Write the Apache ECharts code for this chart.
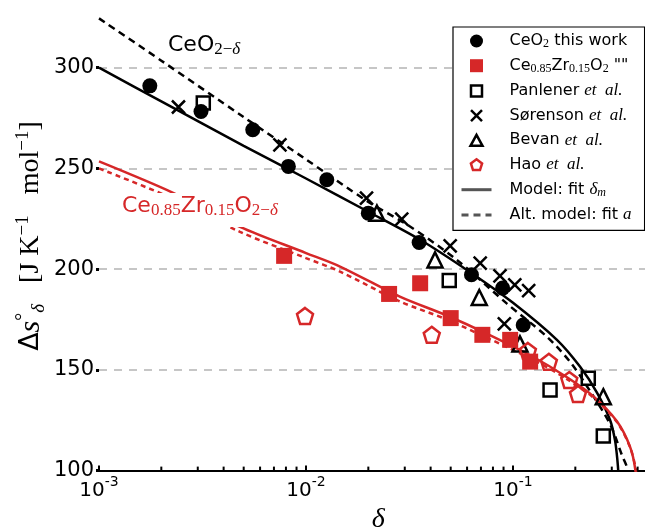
<!DOCTYPE html>
<html>
<head>
<meta charset="utf-8">
<script src="https://cdn.jsdelivr.net/npm/echarts@6/dist/echarts.min.js"></script>
<style>
  html, body { margin: 0; padding: 0; background: #fff; }
  #main { width: 645px; height: 529px; }
</style>
</head>
<body>
<div id="main"></div>
<script>
// CeO2 this work
var ceo2X = [0.00176, 0.00311, 0.00553, 0.00822, 0.0126, 0.0200, 0.0352, 0.0630, 0.0891, 0.112];
var ceo2Y = [291, 278.3, 269.2, 251, 244.4, 227.8, 213.2, 197.2, 190.6, 172.3];
// Ce0.85Zr0.15O2
var czX = [0.00784, 0.0252, 0.0356, 0.05, 0.0711, 0.0969, 0.121];
var czY = [206.6, 187.7, 193, 175.7, 167.4, 164.9, 154.1];
// Panlener et al.
var panX = [0.00319, 0.0492, 0.151, 0.231, 0.273];
var panY = [282.5, 194.4, 140, 145.9, 117.2];
// Sørenson et al.
var sorX = [0.00242, 0.00748, 0.0196, 0.029, 0.0497, 0.0694, 0.0865, 0.102, 0.119, 0.0908];
var sorY = [280.5, 261.7, 235.3, 224.8, 211.6, 203, 196.7, 192.2, 189.4, 172.8];
// Bevan et al.
var bevX = [0.022, 0.042, 0.0687, 0.108, 0.273];
var bevY = [227.8, 204.6, 185.9, 162.9, 136.7];
// Hao et al.
var haoX = [0.00989, 0.0405, 0.118, 0.149, 0.187, 0.206];
var haoY = [176.8, 167.4, 159.4, 154, 145, 138];

// model curves
var modelX = [0.001, 0.002, 0.005, 0.01, 0.02, 0.0356, 0.0631, 0.1, 0.163, 0.211, 0.2548, 0.2946, 0.311, 0.3195, 0.3235, 0.327];
var modelY = [300, 283.3, 261.2, 245, 228.5, 214.6, 198, 183.3, 164.9, 151.5, 138.6, 125, 115, 105, 97, 82];
var altX = [0.001, 0.002, 0.005, 0.01, 0.02, 0.0318, 0.0535, 0.0932, 0.1456, 0.1886, 0.2355, 0.2946, 0.335, 0.36, 0.368];
var altY = [324.5, 303.5, 275.5, 254.5, 233.4, 221.2, 204.6, 183, 166.5, 154, 139.5, 123, 108, 100, 92];
var czModelX = [0.001, 0.00228, 0.0048, 0.01, 0.0146, 0.0284, 0.0479, 0.0746, 0.1253, 0.1815, 0.244, 0.317, 0.367, 0.39, 0.395];
var czModelY = [253.5, 237.9, 221, 208, 201.3, 186.4, 177, 168, 156.4, 146.5, 137, 124.6, 112, 100.3, 88];
var czAltX = [0.001, 0.00228, 0.0048, 0.01, 0.0146, 0.0284, 0.0479, 0.0746, 0.1253, 0.1815, 0.244, 0.317, 0.367, 0.392, 0.398];
var czAltY = [250, 235, 218.5, 205.5, 198.8, 184, 175, 166, 155, 145.5, 136.3, 124.2, 111.8, 100.3, 88];

// tick labels
var xTickValues = [0.001, 0.01, 0.1];
var xTickExps = ['-3', '-2', '-1'];
var xMinorTicks = [0.002, 0.003, 0.004, 0.005, 0.006, 0.007, 0.008, 0.009,
	0.02, 0.03, 0.04, 0.05, 0.06, 0.07, 0.08, 0.09, 0.2, 0.3, 0.4];

var RED = '#d62728';
var SANS = 'DejaVu Sans';
var SERIF = 'Liberation Serif';

function pairs(xs, ys) {
	return xs.map(function (x, i) { return [x, ys[i]]; });
}

var legendText = {
	'CeO2 this work': '{n|CeO}{s|2}{n| this work}',
	'Ce0.85Zr0.15O2': '{n|Ce}{s|0.85}{n|Zr}{s|0.15}{n|O}{s|2}{n| ""}',
	'Panlener et al.': '{n|Panlener }{i|et  al.}',
	'Sørenson et al.': '{n|Sørenson }{i|et  al.}',
	'Bevan et al.': '{n|Bevan }{i|et  al.}',
	'Hao et al.': '{n|Hao }{i|et  al.}',
	'Model: fit dm': '{n|Model: fit }{i|δ}{si|m}',
	'Alt. model: fit a': '{n|Alt. model: fit }{i|a}'
};

// legend icons drawn in a 30x13 box so they are not stretched
var BOX = 'M0,0L0,0M30,13L30,13';
var icons = {
	circle: 'path://' + BOX + 'M21.5,6.5A6.5,6.5,0,1,1,8.5,6.5A6.5,6.5,0,1,1,21.5,6.5Z',
	square: 'path://' + BOX + 'M8.5,0L21.5,0L21.5,13L8.5,13Z',
	hollowSquare: 'path://' + BOX + 'M9.5,1L20.5,1L20.5,12L9.5,12Z',
	cross: 'path://' + BOX + 'M9.5,1L20.5,12M20.5,1L9.5,12',
	triangle: 'path://' + BOX + 'M15,1L21,12L9,12Z',
	pentagon: 'path://' + BOX + 'M15,0.8L20.6,4.9L18.5,11.6L11.5,11.6L9.4,4.9Z'
};

var myChart = echarts.init(document.getElementById('main'));
var hollow = function (c) { return { color: 'transparent', borderColor: c, borderWidth: 2.5, opacity: 1 }; };

var option = {
	animation: false,
	grid: {
		left: 99, right: -12.7, top: -33, bottom: 58.4,
		containLabel: false,
		outerBoundsMode: 'none'
	},
	xAxis: {
		type: 'log',
		logBase: 10,
		min: 0.001,
		max: 0.5,
		name: 'δ',
		nameLocation: 'middle',
		nameGap: 32,
		nameTextStyle: { fontFamily: SERIF, fontStyle: 'italic', fontSize: 28, color: '#000' },
		axisLine: { show: true, lineStyle: { color: '#000', width: 2 } },
		axisTick: { show: true, inside: true, length: 5, lineStyle: { color: '#000', width: 2 } },
		minorTick: { show: false },
		splitLine: { show: false },
		axisLabel: {
			margin: 5,
			formatter: function (v) {
				for (var i = 0; i < xTickValues.length; i++) {
					if (Math.abs(v / xTickValues[i] - 1) < 1e-6) return '{b|10}{e|' + xTickExps[i] + '}';
				}
				return '';
			},
			rich: {
				b: { fontFamily: SANS, fontSize: 20, lineHeight: 30, color: '#000' },
				e: { fontFamily: SANS, fontSize: 14, lineHeight: 14, verticalAlign: 'top', color: '#000' }
			}
		}
	},
	yAxis: {
		type: 'value',
		min: 100,
		max: 350,
		interval: 50,
		axisLine: { show: false },
		axisTick: { show: true, inside: false, length: 3, lineStyle: { color: '#000', width: 3 } },
		axisLabel: { margin: 5, fontFamily: SANS, fontSize: 21, color: '#000' },
		splitLine: { show: true, lineStyle: { color: '#b4b4b4', width: 1.5, type: [8, 7] } }
	},
	legend: {
		orient: 'vertical',
		left: 453,
		top: 27,
		padding: [6, 13, 7, 7],
		itemGap: 7.7,
		itemWidth: 30,
		itemHeight: 13,
		backgroundColor: '#fff',
		borderColor: '#000',
		borderWidth: 1.2,
		borderRadius: 0,
		data: [
			{ name: 'CeO2 this work', icon: icons.circle },
			{ name: 'Ce0.85Zr0.15O2', icon: icons.square },
			{ name: 'Panlener et al.', icon: icons.hollowSquare, itemStyle: { borderWidth: 2.5 } },
			{ name: 'Sørenson et al.', icon: icons.cross, itemStyle: { borderWidth: 2.5 } },
			{ name: 'Bevan et al.', icon: icons.triangle, itemStyle: { borderWidth: 2.5 } },
			{ name: 'Hao et al.', icon: icons.pentagon, itemStyle: { borderWidth: 2.5 } },
			{ name: 'Model: fit dm', lineStyle: { color: '#555', width: 3 }, itemStyle: { opacity: 0 } },
			{ name: 'Alt. model: fit a', lineStyle: { color: '#555', width: 3 }, itemStyle: { opacity: 0 } }
		],
		formatter: function (name) { return legendText[name]; },
		textStyle: {
			padding: [0, 0, 0, 13],
			rich: {
				n: { fontFamily: SANS, fontSize: 16, lineHeight: 18, color: '#000' },
				s: { fontFamily: SERIF, fontSize: 12, lineHeight: 8, verticalAlign: 'bottom', color: '#000' },
				i: { fontFamily: SERIF, fontStyle: 'italic', fontSize: 17, lineHeight: 18, color: '#000' },
				si: { fontFamily: SERIF, fontStyle: 'italic', fontSize: 12, lineHeight: 6, verticalAlign: 'bottom', color: '#000' }
			}
		}
	},
	graphic: [
		{
			type: 'text', x: 168, y: 32, z: 100,
			style: {
				text: '{n|CeO}{s|2−}{d|δ}',
				verticalAlign: 'top',
				rich: {
					n: { fontFamily: SANS, fontSize: 22, lineHeight: 26, fill: '#000' },
					s: { fontFamily: SERIF, fontSize: 17, lineHeight: 4, verticalAlign: 'bottom', fill: '#000' },
					d: { fontFamily: SERIF, fontStyle: 'italic', fontSize: 17, lineHeight: 4, verticalAlign: 'bottom', fill: '#000' }
				}
			}
		},
		{
			type: 'text', x: 118, y: 193, z: 100,
			style: {
				text: '{n|Ce}{s|0.85}{n|Zr}{s|0.15}{n|O}{s|2−}{d|δ}',
				verticalAlign: 'top',
				backgroundColor: '#fff',
				padding: [0, 4, 8, 4],
				rich: {
					n: { fontFamily: SANS, fontSize: 22, lineHeight: 26, fill: RED },
					s: { fontFamily: SERIF, fontSize: 17, lineHeight: 4, verticalAlign: 'bottom', fill: RED },
					d: { fontFamily: SERIF, fontStyle: 'italic', fontSize: 17, lineHeight: 4, verticalAlign: 'bottom', fill: RED }
				}
			}
		},
		{
			type: 'text', x: 31, y: 236, rotation: Math.PI / 2, z: 100,
			style: {
				text: '{d|Δ}{s|s}{o|°}{sd|δ}{t|   [J K}{sp|−1}{t|   mol}{sp|−1}{t|]}',
				align: 'center',
				verticalAlign: 'middle',
				rich: {
					d: { fontFamily: SANS, fontSize: 27, lineHeight: 34, fill: '#000' },
					s: { fontFamily: SERIF, fontStyle: 'italic', fontSize: 30, lineHeight: 34, fill: '#000' },
					o: { fontFamily: SERIF, fontSize: 20, lineHeight: 10, verticalAlign: 'top', fill: '#000' },
					sd: { fontFamily: SERIF, fontStyle: 'italic', fontSize: 19, lineHeight: 6, verticalAlign: 'bottom', fill: '#000' },
					t: { fontFamily: SERIF, fontSize: 28, lineHeight: 34, fill: '#000' },
					sp: { fontFamily: SERIF, fontSize: 19, lineHeight: 12, verticalAlign: 'top', fill: '#000' }
				}
			}
		}
	],
	series: [
		{
			name: 'Model: fit dm', type: 'line', data: pairs(modelX, modelY),
			symbol: 'none', smooth: 0.3, z: 2,
			lineStyle: { color: '#000', width: 2.5 }
		},
		{
			name: 'Alt. model: fit a', type: 'line', data: pairs(altX, altY),
			symbol: 'none', smooth: 0.3, z: 2,
			lineStyle: { color: '#000', width: 2.5, type: [7, 5] }
		},
		{
			name: 'CeZr model', type: 'line', data: pairs(czModelX, czModelY),
			symbol: 'none', smooth: 0.3, z: 2,
			lineStyle: { color: RED, width: 2.5 }
		},
		{
			name: 'CeZr alt model', type: 'line', data: pairs(czAltX, czAltY),
			symbol: 'none', smooth: 0.3, z: 2,
			lineStyle: { color: RED, width: 2.5, type: [5, 4] }
		},
		{
			name: 'Panlener et al.', type: 'scatter', data: pairs(panX, panY),
			symbol: 'rect', symbolSize: 13, z: 3, itemStyle: hollow('#000')
		},
		{
			name: 'Sørenson et al.', type: 'scatter', data: pairs(sorX, sorY),
			symbol: 'path://M0,0L10,10M10,0L0,10', symbolSize: 13, z: 3, itemStyle: hollow('#000')
		},
		{
			name: 'Bevan et al.', type: 'scatter', data: pairs(bevX, bevY),
			symbol: 'triangle', symbolSize: 15, z: 3, itemStyle: hollow('#000')
		},
		{
			name: 'Hao et al.', type: 'scatter', data: pairs(haoX, haoY),
			symbol: 'path://M10,0L19.51,6.91L15.88,18.09L4.12,18.09L0.49,6.91Z', symbolSize: 16, z: 3,
			itemStyle: hollow(RED)
		},
		{
			name: 'Ce0.85Zr0.15O2', type: 'scatter', data: pairs(czX, czY),
			symbol: 'rect', symbolSize: 16, z: 4, itemStyle: { color: RED, opacity: 1 }
		},
		{
			name: 'CeO2 this work', type: 'scatter', data: pairs(ceo2X, ceo2Y),
			symbol: 'circle', symbolSize: 15, z: 4, itemStyle: { color: '#000', opacity: 1 }
		},
		{
			name: 'minor ticks', type: 'scatter', silent: true,
			data: xMinorTicks.map(function (x) { return [x, 100]; }),
			symbol: 'rect', symbolSize: [2, 4], symbolOffset: [0, -2], z: 5,
			itemStyle: { color: '#000', opacity: 1 }
		}
	]
};
myChart.setOption(option);
</script>
</body>
</html>
